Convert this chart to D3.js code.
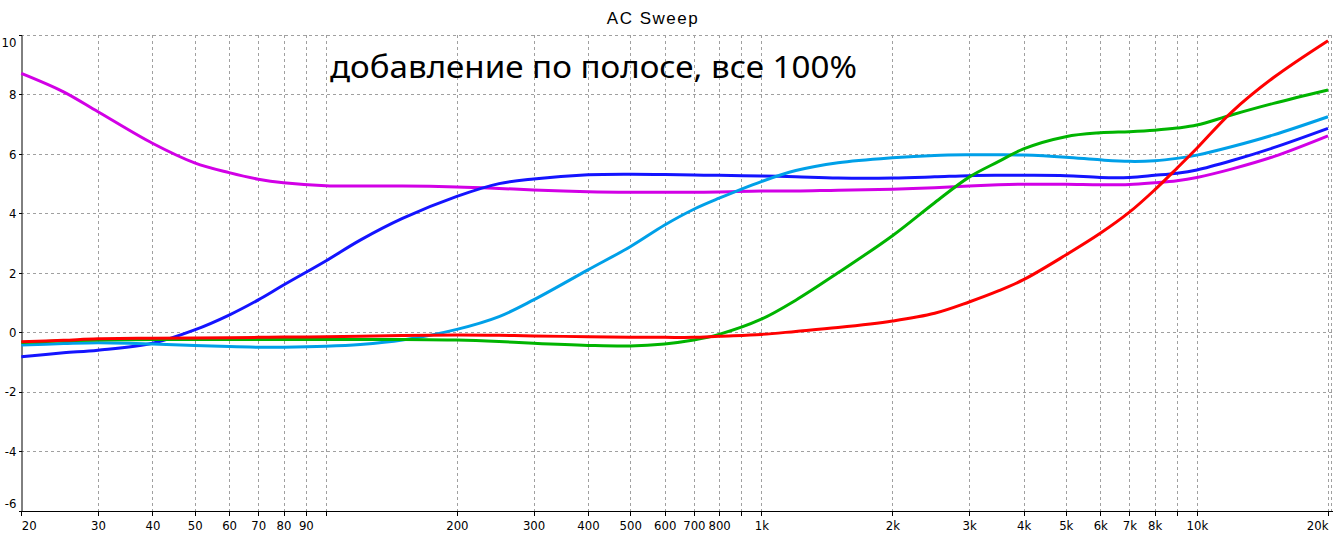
<!DOCTYPE html>
<html>
<head>
<meta charset="utf-8">
<script src="https://cdn.jsdelivr.net/npm/d3@7"></script>
<style>
  html, body { margin: 0; padding: 0; background: #fff; }
  svg { display: block; }
</style>
</head>
<body>
<svg id="chart" width="1333" height="538"></svg>
<script>
// ---------------- data ----------------
const title = "AC Sweep";
const annotation = "добавление по полосе, все 100%";

const freqs = [20,25,30,40,50,60,70,80,100,120,150,200,250,300,400,500,600,700,800,1000,
               1200,1500,2000,2500,3000,3500,4000,5000,6000,7000,8000,9000,10000,12000,15000,20000];

const magentaValues = [8.71,8.09,7.42,6.36,5.70,5.37,5.15,5.03,4.93,4.92,4.92,4.89,4.84,4.79,4.73,4.71,4.71,4.71,4.72,4.75,
                       4.75,4.78,4.81,4.86,4.92,4.96,4.98,4.98,4.96,4.97,5.03,5.10,5.21,5.49,5.91,6.61];
const blueValues    = [-0.82,-0.69,-0.60,-0.37,0.08,0.58,1.09,1.59,2.40,3.10,3.83,4.57,5.00,5.16,5.30,5.32,5.31,5.29,5.28,5.26,
                       5.23,5.19,5.19,5.23,5.27,5.28,5.28,5.27,5.21,5.21,5.28,5.35,5.46,5.77,6.21,6.86];
const lightBlueValues = [-0.43,-0.38,-0.35,-0.39,-0.44,-0.48,-0.50,-0.50,-0.47,-0.41,-0.26,0.10,0.53,1.09,2.10,2.88,3.61,4.14,4.51,5.07,
                       5.44,5.70,5.87,5.95,5.97,5.97,5.96,5.89,5.80,5.75,5.77,5.85,5.96,6.24,6.64,7.25];
const greenValues   = [-0.34,-0.28,-0.26,-0.24,-0.24,-0.24,-0.24,-0.24,-0.24,-0.24,-0.24,-0.26,-0.31,-0.37,-0.44,-0.46,-0.39,-0.26,-0.07,0.44,
                       1.08,2.00,3.25,4.36,5.22,5.74,6.17,6.58,6.71,6.75,6.80,6.87,6.97,7.31,7.70,8.15];
const redValues     = [-0.32,-0.27,-0.22,-0.20,-0.19,-0.18,-0.17,-0.16,-0.15,-0.13,-0.11,-0.09,-0.10,-0.12,-0.15,-0.17,-0.17,-0.17,-0.13,-0.07,
                       0.03,0.16,0.38,0.64,1.02,1.39,1.77,2.60,3.33,4.04,4.79,5.52,6.19,7.40,8.57,9.81];

const seriesNames  = ["magenta","blue","lightblue","green","red"];
const seriesColors = ["#d200e6","#1414ff","#00a0e8","#00b400","#ff0000"];
const seriesValues = [magentaValues, blueValues, lightBlueValues, greenValues, redValues];

const xTickValues = [20,30,40,50,60,70,80,90,100,200,300,400,500,600,700,800,900,
                     1000,2000,3000,4000,5000,6000,7000,8000,9000,10000,20000];
const xTickLabels = ["20","30","40","50","60","70","80","90","","200","300","400","500","600","700","800","",
                     "1k","2k","3k","4k","5k","6k","7k","8k","","10k","20k"];
const yTickValues = [-6,-4,-2,0,2,4,6,8,10];
const yTickLabels = ["-6","-4","-2","0","2","4","6","8","10"];

// ---------------- layout ----------------
const svg = d3.select("#chart");
const X0 = 21.3, X1 = 1328, Y0 = 510.7, Y1 = 35;
const x = d3.scaleLog().domain([20, 20000]).range([X0, X1]);
const y = d3.scaleLinear().domain([-6, 10]).range([Y0, Y1]);
const tickFont = "'Liberation Sans Narrow','DejaVu Sans Condensed','Liberation Sans',Arial,sans-serif";

// grid
const grid = svg.append("g").attr("stroke", "#a0a0a0").attr("stroke-width", 1)
  .attr("stroke-dasharray", "3,3").attr("shape-rendering", "crispEdges");
grid.selectAll("line.v").data(xTickValues.filter(d => d > 20)).enter().append("line")
  .attr("x1", d => Math.round(x(d)) + 0.5).attr("x2", d => Math.round(x(d)) + 0.5)
  .attr("y1", Y1).attr("y2", Y0);
grid.append("line").attr("x1", 1331.5).attr("x2", 1331.5).attr("y1", Y1).attr("y2", Y0);
grid.selectAll("line.h").data(yTickValues.filter(d => d > -6)).enter().append("line")
  .attr("x1", X0).attr("x2", 1333)
  .attr("y1", d => Math.round(y(d)) + 0.5).attr("y2", d => Math.round(y(d)) + 0.5);

// axes
const xAxis = d3.axisBottom(x).tickValues(xTickValues)
  .tickFormat((d, i) => xTickLabels[i]).tickSize(4).tickSizeOuter(0).tickPadding(5);
const gx = svg.append("g").attr("transform", `translate(0,${Math.round(Y0) + 0.5})`).call(xAxis);
gx.select(".domain").attr("d", `M${X0},0H1333`);
gx.selectAll("line").attr("shape-rendering", "crispEdges");
gx.selectAll("text").attr("font-family", tickFont).attr("font-size", 13).attr("fill", "#000")
  .attr("text-anchor", d => d === 20 ? "start" : (d === 20000 ? "end" : "middle"));

const yAxis = d3.axisLeft(y).tickValues(yTickValues)
  .tickFormat((d, i) => yTickLabels[i]).tickSize(3).tickSizeOuter(0).tickPadding(2);
const gy = svg.append("g").attr("transform", `translate(${Math.round(X0) + 0.5},0)`).call(yAxis);
gy.selectAll("line").attr("shape-rendering", "crispEdges");
gy.selectAll("text").attr("font-family", tickFont).attr("font-size", 13).attr("fill", "#000")
  .attr("dy", d => d === 10 ? "0.9em" : (d === -6 ? "-0.25em" : "0.32em"));
[gx, gy].forEach(g => g.attr("font-size", 13));

// curves
const line = d3.line().x(d => x(d[0])).y(d => y(d[1])).curve(d3.curveCatmullRom.alpha(0.5));
const curves = svg.append("g").attr("fill", "none").attr("stroke-width", 3)
  .attr("stroke-linejoin", "round").attr("stroke-linecap", "butt");
seriesValues.forEach((vals, k) => {
  curves.append("path")
    .datum(freqs.map((f, i) => [f, vals[i]]))
    .attr("stroke", seriesColors[k])
    .attr("d", line);
});

// title and annotation
svg.append("text").attr("x", 653).attr("y", 24).attr("text-anchor", "middle")
  .attr("font-family", "'Liberation Sans',Arial,sans-serif").attr("font-size", 17)
  .attr("letter-spacing", "1.5px").attr("fill", "#000").text(title);
svg.append("text").attr("x", 330).attr("y", 78)
  .attr("font-family", "'Noto Sans','Open Sans',sans-serif").attr("font-size", 31)
  .attr("textLength", 527).attr("lengthAdjust", "spacingAndGlyphs")
  .attr("fill", "#000").text(annotation);
</script>
</body>
</html>
